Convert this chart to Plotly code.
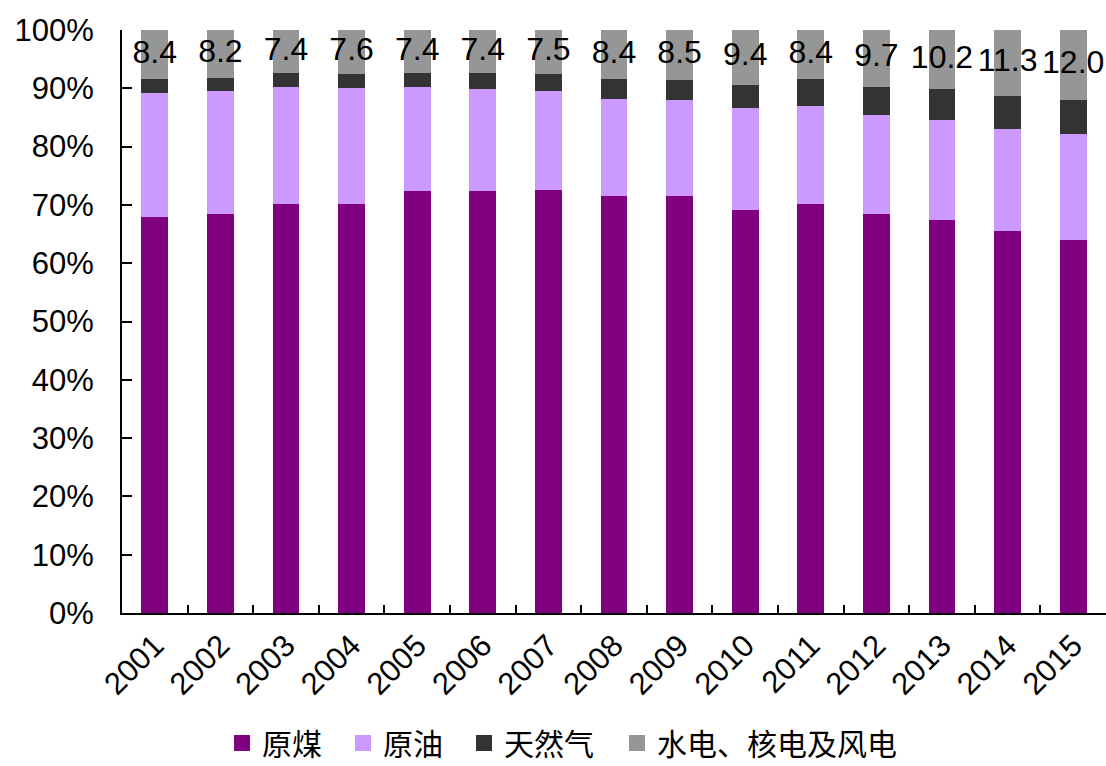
import plotly.graph_objects as go

years = [str(y) for y in range(2001, 2016)]
coal = [68.0, 68.5, 70.2, 70.2, 72.4, 72.4, 72.5, 71.5, 71.6, 69.2, 70.2, 68.5, 67.4, 65.6, 64.0]
oil = [21.2, 21.0, 20.1, 19.9, 17.8, 17.5, 17.0, 16.7, 16.4, 17.4, 16.8, 17.0, 17.1, 17.4, 18.1]
gas = [2.4, 2.3, 2.3, 2.3, 2.4, 2.7, 3.0, 3.4, 3.5, 4.0, 4.6, 4.8, 5.3, 5.7, 5.9]
clean = [8.4, 8.2, 7.4, 7.6, 7.4, 7.4, 7.5, 8.4, 8.5, 9.4, 8.4, 9.7, 10.2, 11.3, 12.0]

names = ["原煤", "原油", "天然气", "水电、核电及风电"]
colors = ["#800080", "#CC99FF", "#333333", "#969696"]
series = [coal, oil, gas, clean]

LATIN = "Arial, 'Liberation Sans', sans-serif"
CJK = "'Noto Sans CJK SC', sans-serif"
W, H = 1106, 766
legend_left_px = [222, 343, 464, 617]  # one single-entry legend per series

fig = go.Figure()
for name, vals, col in zip(names, series, colors):
    fig.add_trace(go.Bar(x=years, y=vals, name=name, marker=dict(color=col, line=dict(width=0)),
                         showlegend=False, hoverinfo="skip"))

# value labels centred in the top segment
label_y = [c + o + g + h / 2 for c, o, g, h in zip(coal, oil, gas, clean)]
fig.add_trace(go.Scatter(x=years, y=label_y, mode="text", text=[f"{v:.1f}" for v in clean],
                         textposition="middle center", textfont=dict(family=LATIN, size=32, color="#000"),
                         showlegend=False, hoverinfo="skip", cliponaxis=False))

# legend entries with larger square swatches
legend_layout = {}
for i, (name, col, lx) in enumerate(zip(names, colors, legend_left_px)):
    key = "legend" if i == 0 else f"legend{i + 1}"
    fig.add_trace(go.Scatter(x=[None], y=[None], mode="markers", name=name, legend=key,
                             marker=dict(symbol="square", size=18, color=col)))
    legend_layout[key] = dict(orientation="h", xref="container", yref="container",
                              x=lx / W, xanchor="left", y=(H - 743) / H, yanchor="middle",
                              bgcolor="rgba(0,0,0,0)",
                              font=dict(family=CJK, size=30, color="#000"))

fig.update_layout(
    width=W, height=H,
    barmode="stack", bargap=0.59,
    plot_bgcolor="white", paper_bgcolor="white",
    margin=dict(l=122, r=0, t=30, b=153, autoexpand=False),
    font=dict(family=LATIN, size=30, color="#000"),
    **legend_layout,
)
fig.update_xaxes(
    type="category", range=[-0.5, 14.5], showline=True, linecolor="#000", linewidth=2,
    ticks="inside", tickson="boundaries", ticklen=8, tickcolor="#000", tickwidth=2,
    tickangle=-45, tickfont=dict(family=LATIN, size=31), showgrid=False, zeroline=False,
    automargin=False,
)
fig.update_yaxes(
    range=[0, 100], tickvals=list(range(0, 101, 10)), ticktext=[f"{v}%" for v in range(0, 101, 10)],
    showline=True, linecolor="#000", linewidth=2, ticks="inside", ticklen=10, tickcolor="#000",
    tickwidth=2, tickfont=dict(family=LATIN, size=31), showgrid=False, zeroline=False,
    ticklabelstandoff=20, automargin=False,
)

fig.write_html("out.html")
